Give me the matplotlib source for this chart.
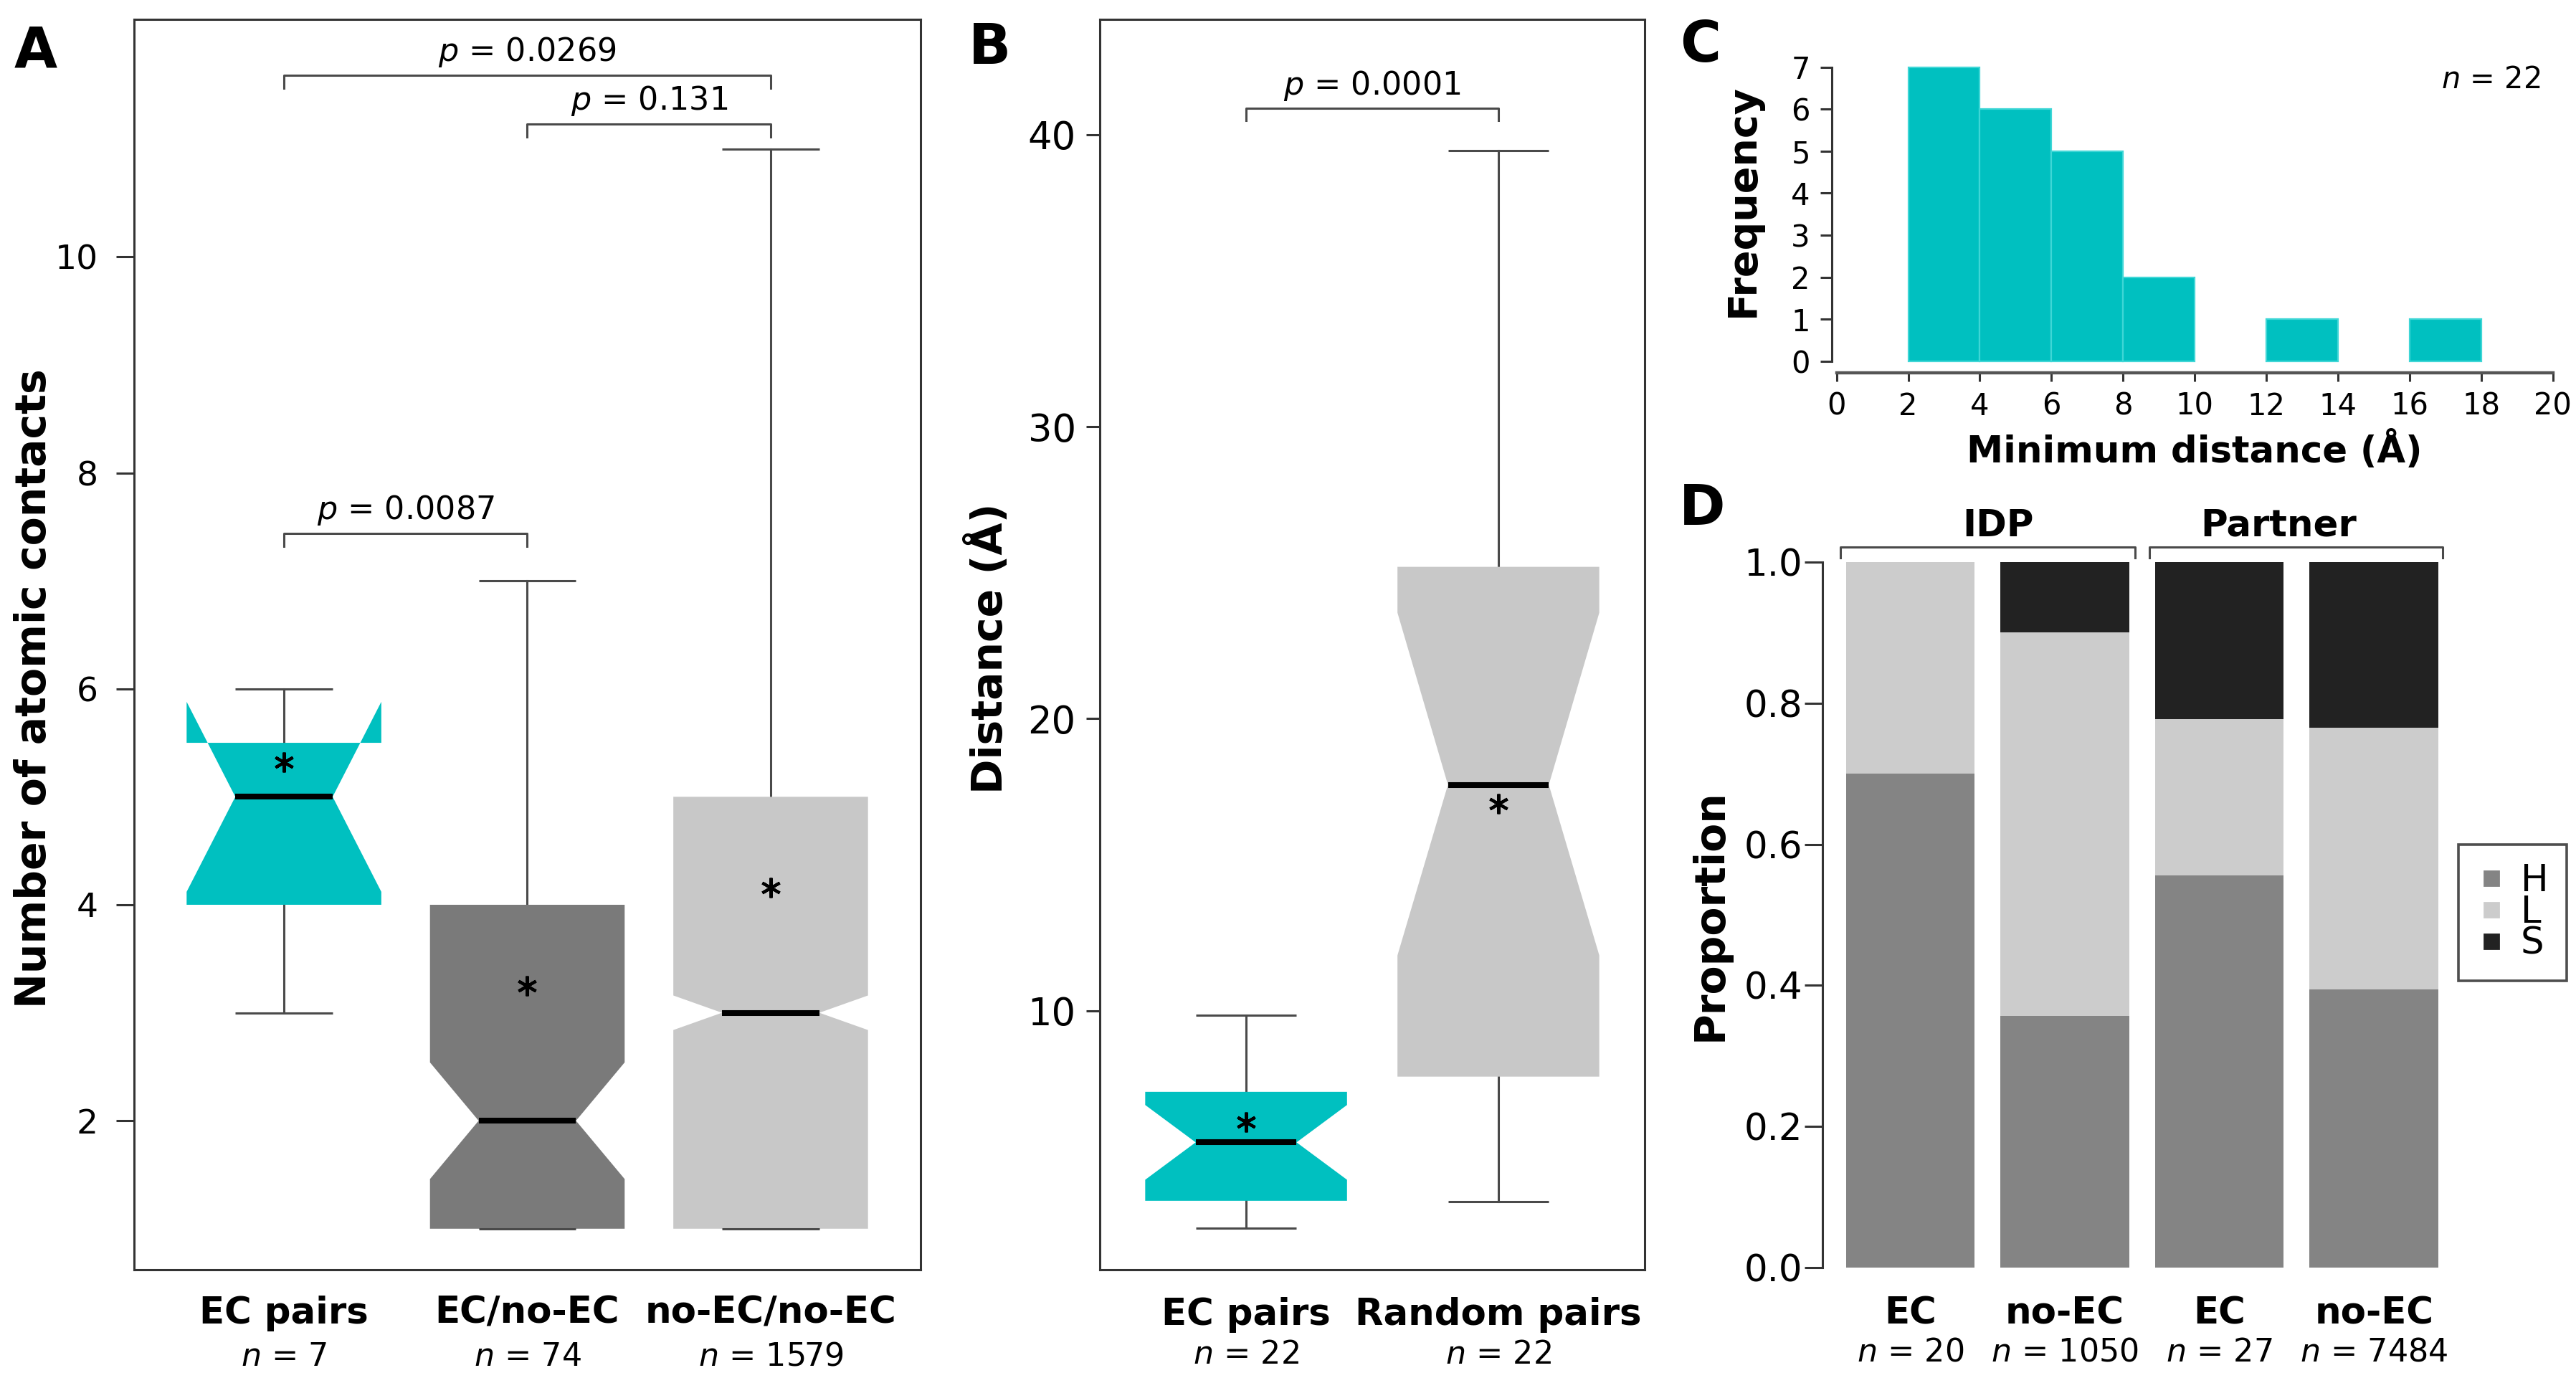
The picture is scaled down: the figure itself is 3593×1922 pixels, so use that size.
import numpy as np
import matplotlib.pyplot as plt
from matplotlib.lines import Line2D
from matplotlib.transforms import blended_transform_factory

W, H, DPI = 3593, 1922, 200

# ---- Panel A: number of atomic contacts (notched boxes)
groups_a = ['EC pairs', 'EC/no-EC', 'no-EC/no-EC']
n_a = [7, 74, 1579]
q1_a = [4.0, 1.0, 1.0]
q3_a = [5.5, 4.0, 5.0]
med_a = [5.0, 2.0, 3.0]
notch_lo_a = [4.12, 1.46, 2.84]
notch_hi_a = [5.88, 2.54, 3.16]
whis_lo_a = [3.0, 1.0, 1.0]
whis_hi_a = [6.0, 7.0, 11.0]
mean_a = [5.32, 3.25, 4.16]
colors_a = ['#00C0C0', '#7A7A7A', '#C8C8C8']
pairs_a = [(1, 2), (1, 3), (2, 3)]
pvals_a = ['0.0087', '0.0269', '0.131']
bracket_y_a = [7.44, 11.68, 11.23]

# ---- Panel B: distance
groups_b = ['EC pairs', 'Random pairs']
n_b = [22, 22]
q1_b = [3.5, 7.75]
q3_b = [7.23, 25.2]
med_b = [5.5, 17.74]
notch_lo_b = [4.22, 11.9]
notch_hi_b = [6.78, 23.63]
whis_lo_b = [2.57, 3.47]
whis_hi_b = [9.85, 39.46]
mean_b = [6.2, 17.1]
colors_b = ['#00C0C0', '#C8C8C8']
pval_b = '0.0001'
bracket_y_b = 40.9

# ---- Panel C: histogram of minimum distance
bin_left = [2, 4, 6, 8, 10, 12, 14, 16]
counts_c = [7, 6, 5, 2, 0, 1, 0, 1]
n_c = 22

# ---- Panel D: secondary structure proportions
labels_d = ['EC', 'no-EC', 'EC', 'no-EC']
n_d = [20, 1050, 27, 7484]
prop_h = [0.700, 0.357, 0.556, 0.394]
prop_l = [0.300, 0.544, 0.222, 0.371]
prop_s = [0.000, 0.099, 0.222, 0.235]
groups_d = ['IDP', 'Partner']
colors_d = {'H': '#848484', 'L': '#CCCCCC', 'S': '#222222'}

TEAL = '#00C0C0'
WHISK = '#4A4A4A'
FRAME = '#333333'

fig = plt.figure(figsize=(W / DPI, H / DPI), dpi=DPI)
fig.patch.set_facecolor('white')


def axes_px(l, t, r, b):
    return fig.add_axes([l / W, 1 - b / H, (r - l) / W, (b - t) / H])


def notched_box(ax, x, q1, q3, med, nlo, nhi, wlo, whi, mean, color, hw=0.4):
    # R-style notched box: the notch can poke out past the hinges
    xs = [x - hw, x - hw, x - hw / 2, x - hw, x - hw,
          x + hw, x + hw, x + hw / 2, x + hw, x + hw]
    ys = [q1, nlo, med, nhi, q3, q3, nhi, med, nlo, q1]
    ax.fill(xs, ys, color=color, lw=0, zorder=2)
    ax.plot([x, x], [q3, whi], color=WHISK, lw=1.1, zorder=1)
    ax.plot([x, x], [wlo, q1], color=WHISK, lw=1.1, zorder=1)
    for v in (wlo, whi):
        ax.plot([x - hw / 2, x + hw / 2], [v, v], color=WHISK, lw=1.1,
                solid_capstyle='butt', zorder=3)
    ax.plot([x - hw / 2, x + hw / 2], [med, med], color='black', lw=2.9,
            solid_capstyle='butt', zorder=4)
    ax.plot([x], [mean], ls='', marker=(6, 2, 0), ms=10, mew=1.5,
            color='black', zorder=5)


def bracket(ax, x1, x2, y, tip, text, size):
    ax.plot([x1, x1, x2, x2], [y - tip, y, y, y - tip], color=WHISK, lw=1.1,
            clip_on=False)
    ax.text((x1 + x2) / 2, y + tip * 1.1, '$p$ = ' + text, ha='center',
            va='baseline', fontsize=size)


def style_box_axes(ax, labelsize, ticklen, pad):
    for sp in ax.spines.values():
        sp.set_color(FRAME)
        sp.set_linewidth(1.1)
    ax.tick_params(axis='y', labelsize=labelsize, length=ticklen, width=1.1,
                   color=FRAME, pad=pad)
    ax.tick_params(axis='x', bottom=False, labelbottom=False)


def xlabels(ax, xs, names, ns, y_name, y_n, size_name, size_n):
    tr = blended_transform_factory(ax.transData, ax.transAxes)
    for x, name, n in zip(xs, names, ns):
        ax.text(x, y_name, name, transform=tr, ha='center', va='baseline',
                fontsize=size_name, fontweight='bold')
        ax.text(x, y_n, '$n$ = {}'.format(n), transform=tr, ha='center',
                va='baseline', fontsize=size_n)


# ================= Panel A =================
ax_a = axes_px(187, 27, 1284, 1771)
xa = np.arange(1, len(groups_a) + 1)
for i in range(len(groups_a)):
    notched_box(ax_a, xa[i], q1_a[i], q3_a[i], med_a[i], notch_lo_a[i],
                notch_hi_a[i], whis_lo_a[i], whis_hi_a[i], mean_a[i], colors_a[i])
for (g1, g2), p, y in zip(pairs_a, pvals_a, bracket_y_a):
    bracket(ax_a, g1, g2, y, 0.12, p, 16)
ax_a.set_xlim(0.384, 3.616)
ax_a.set_ylim(0.62, 12.2)
ax_a.set_yticks([2, 4, 6, 8, 10])
style_box_axes(ax_a, 17, 9, 9)
ax_a.text(-0.127, 0.465, 'Number of atomic contacts', transform=ax_a.transAxes,
          rotation=90, ha='center', va='center', fontsize=21, fontweight='bold')
xlabels(ax_a, xa, groups_a, n_a, -0.043, -0.0768, 18.5, 16)

# ================= Panel B =================
ax_b = axes_px(1534, 27, 2294, 1771)
xb = np.arange(1, len(groups_b) + 1)
for i in range(len(groups_b)):
    notched_box(ax_b, xb[i], q1_b[i], q3_b[i], med_b[i], notch_lo_b[i],
                notch_hi_b[i], whis_lo_b[i], whis_hi_b[i], mean_b[i], colors_b[i])
bracket(ax_b, 1, 2, bracket_y_b, 0.42, pval_b, 16)
ax_b.set_xlim(0.42, 2.58)
ax_b.set_ylim(1.14, 43.94)
ax_b.set_yticks([10, 20, 30, 40])
style_box_axes(ax_b, 19, 7, 5)
ax_b.text(-0.204, 0.497, 'Distance (Å)', transform=ax_b.transAxes,
          rotation=90, ha='center', va='center', fontsize=21, fontweight='bold')
xlabels(ax_b, xb, groups_b, n_b, -0.0442, -0.0751, 18.5, 16)

# ================= Panel C =================
ax_c = axes_px(2554.5, 77, 3585, 520)
nonzero = [(b, c) for b, c in zip(bin_left, counts_c) if c > 0]
ax_c.bar([b for b, c in nonzero], [c for b, c in nonzero], width=2,
         align='edge', color=TEAL, edgecolor='#3FD6D6', linewidth=0.8)
ax_c.set_xlim(-0.144, 20.49)
ax_c.set_ylim(-0.28, 7.286)
for s in ('top', 'right'):
    ax_c.spines[s].set_visible(False)
ax_c.spines['left'].set_bounds(0, 7)
ax_c.spines['bottom'].set_bounds(0, 20)
ax_c.spines['left'].set_color(FRAME)
ax_c.spines['bottom'].set_color('#555555')
ax_c.spines['left'].set_linewidth(1.1)
ax_c.spines['bottom'].set_linewidth(1.6)
ax_c.set_yticks(range(0, 8))
ax_c.set_xticks(range(0, 21, 2))
ax_c.tick_params(axis='y', labelsize=15, length=5.7, width=1.1, pad=5, color=FRAME)
ax_c.tick_params(axis='x', labelsize=15, length=4.3, width=1.1, pad=5, color=FRAME)
ax_c.text(-0.12, 0.542, 'Frequency', transform=ax_c.transAxes, rotation=90,
          ha='center', va='center', fontsize=20, fontweight='bold')
ax_c.text(0.4915, -0.282, 'Minimum distance (Å)', transform=ax_c.transAxes,
          ha='center', va='baseline', fontsize=18.5, fontweight='bold')
ax_c.text(19.65, 6.5, '$n$ = {}'.format(n_c), ha='right', va='baseline',
          fontsize=15)

# ================= Panel D =================
ax_d = axes_px(2541.6, 745, 3434, 1807)
xd = 0.7 + 1.2 * np.arange(len(labels_d))
bottom_l = np.array(prop_h)
bottom_s = bottom_l + np.array(prop_l)
ax_d.bar(xd, prop_h, width=1, color=colors_d['H'], linewidth=0)
ax_d.bar(xd, prop_l, width=1, bottom=bottom_l, color=colors_d['L'], linewidth=0)
ax_d.bar(xd, prop_s, width=1, bottom=bottom_s, color=colors_d['S'], linewidth=0)
ax_d.set_xlim(0.016, 4.984)
ax_d.set_ylim(-0.04, 1.04)
for s in ('top', 'right', 'bottom'):
    ax_d.spines[s].set_visible(False)
ax_d.spines['left'].set_bounds(0, 1)
ax_d.spines['left'].set_color(FRAME)
ax_d.spines['left'].set_linewidth(1.1)
ax_d.set_yticks(np.arange(0, 1.01, 0.2))
ax_d.set_yticklabels(['{:.1f}'.format(v) for v in np.arange(0, 1.01, 0.2)])
ax_d.tick_params(axis='y', labelsize=18.5, length=9, width=1.1, pad=1, color=FRAME)
ax_d.tick_params(axis='x', bottom=False, labelbottom=False)
ax_d.text(-0.1755, 0.5, 'Proportion', transform=ax_d.transAxes, rotation=90,
          ha='center', va='center', fontsize=21, fontweight='bold')
xlabels(ax_d, xd, labels_d, n_d, -0.0373, -0.0866, 18.5, 16)

# group brackets above the bars
for (x1, x2), xt, name in zip([(0.155, 2.447), (2.556, 4.836)], [1.38, 3.56], groups_d):
    ax_d.plot([x1, x1, x2, x2], [1.006, 1.022, 1.022, 1.006], color=WHISK,
              lw=1.1, clip_on=False)
    ax_d.text(xt, 1.037, name, ha='center', va='baseline', fontsize=18.5,
              fontweight='bold')

handles = [Line2D([], [], ls='', marker='s', ms=7, color=colors_d[k]) for k in 'HLS']
leg = ax_d.legend(handles, list('HLS'), loc='center',
                  bbox_to_anchor=(3504.5 / W, 1 - 1273 / H),
                  bbox_transform=fig.transFigure, frameon=True, fancybox=False,
                  fontsize=18.5, handlelength=0.8, handletextpad=0.4,
                  borderpad=0.5, labelspacing=-0.12, borderaxespad=0)
leg.get_frame().set_edgecolor('#222222')
leg.get_frame().set_linewidth(1.3)

# ================= Panel letters =================
for letter, (px, py) in zip('ABCD', [(50, 72), (1381, 67), (2372, 64), (2374, 710)]):
    fig.text(px / W, 1 - py / H, letter, ha='center', va='center',
             fontsize=28, fontweight='bold')

fig.savefig('out.png', dpi=DPI, facecolor='white')
